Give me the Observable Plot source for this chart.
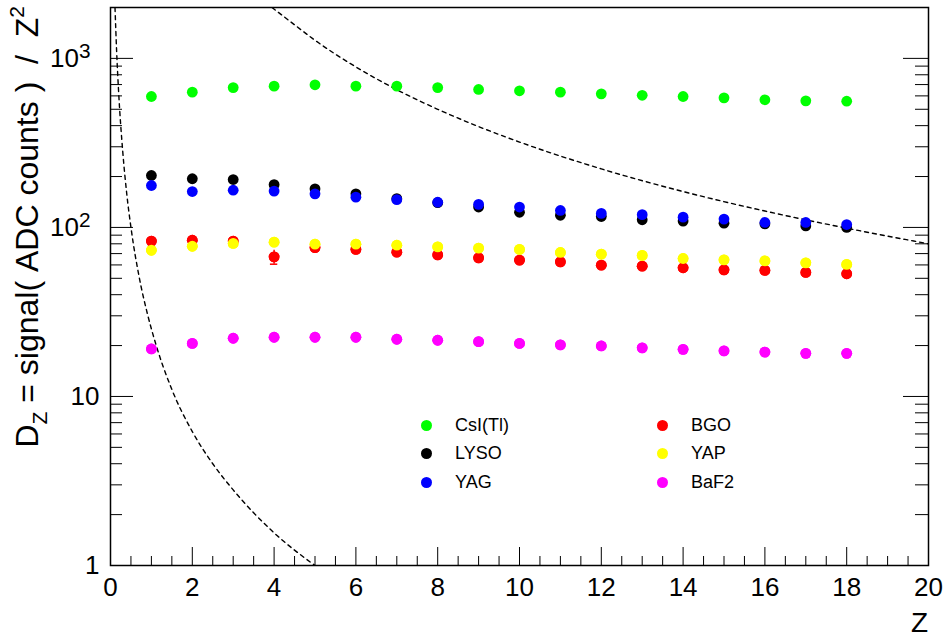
<!DOCTYPE html>
<html>
<head>
<meta charset="utf-8">
<script src="https://cdn.jsdelivr.net/npm/d3@7"></script>
<script src="https://cdn.jsdelivr.net/npm/@observablehq/plot@0.6"></script>
<style>
  body { margin: 0; background: #fff; font-family: "Liberation Sans", Arial, Helvetica, sans-serif; }
  #chart { position: relative; width: 947px; height: 637px; }
  .legend { position: absolute; left: 421px; top: 411px; display: grid;
            grid-template-columns: 236px 140px; grid-template-rows: repeat(3, 28.5px);
            grid-auto-flow: column; font-size: 18px; color: #000; }
  .item { display: flex; align-items: center; }
  .sw { width: 11px; height: 11px; border-radius: 50%; margin-right: 23px; flex: none; }
</style>
</head>
<body>
<div id="chart"></div>
<script>
// Nuclear charge Z of the beam fragments
const Z = [1, 2, 3, 4, 5, 6, 7, 8, 9, 10, 11, 12, 13, 14, 15, 16, 17, 18];

// D_Z = signal / Z^2 for each crystal
const csiTl = [595, 631, 672, 685, 698, 685, 685, 672, 655, 643, 631, 617, 605, 595, 584, 569, 561, 558];
const lyso  = [203, 194, 192, 179, 169, 158, 148, 140, 132, 123, 118, 116, 111, 109, 106, 105, 102, 100];
const yag   = [177, 163, 166, 164, 158, 151, 146, 141, 137, 132, 126, 121, 119, 115, 112, 107, 107, 104];
const bgo   = [83, 84, 83, 67, 76, 74.1, 71.4, 68.8, 66.1, 64.0, 62.6, 59.8, 59.0, 57.7, 56.1, 55.7, 54.2, 53.2];
const bgoErr = [1, 1, 1, 6.4, 1, 1, 1, 1, 1, 1, 1, 1, 1, 1, 1, 1, 1, 1];
const yap   = [73.3, 77.4, 80.4, 81.8, 79.6, 79.6, 78.5, 76.7, 75.4, 74.1, 71.1, 69.5, 68.3, 65.5, 64.3, 63.4, 61.7, 60.4];
const baf2  = [19.1, 20.6, 22.1, 22.4, 22.4, 22.4, 21.8, 21.5, 21.1, 20.6, 20.2, 19.9, 19.4, 19.0, 18.6, 18.3, 18.0, 18.0];

// Crystal names and marker colours (drawing order)
const crystals = ["CsI(Tl)", "LYSO", "YAG", "BGO", "YAP", "BaF2"];
const colors   = ["#00ff00", "#000000", "#0000ff", "#ff0000", "#ffff00", "#ff00ff"];

// Dashed reference curves (low-Z and high-Z limits)
const lowCurveZ  = [0.11, 0.15, 0.2, 0.3, 0.4, 0.5, 0.7, 0.9, 1.1, 1.5, 2, 2.5, 3, 4, 5];
const lowCurveV  = [2000, 1100, 625, 280, 156, 100, 51, 31, 20.7, 11, 6.2, 4, 2.8, 1.56, 1.0];
const highCurveZ = [3.95, 4.5, 5, 6, 7, 8, 9, 10, 12, 14, 16, 18, 20];
const highCurveV = [2000, 1580, 1280, 890, 653, 500, 395, 320, 222, 163, 125, 99, 80];

// Axis ticks
const xMajorTicks = [0, 2, 4, 6, 8, 10, 12, 14, 16, 18, 20];
const yMajorTicks = [1, 10, 100, 1000];
const yTickLabels = ["1", "10", "10^2", "10^3"];

const series = [csiTl, lyso, yag, bgo, yap, baf2];
const points = series.flatMap((vals, i) => Z.map((z, j) => ({ z, v: vals[j], crystal: crystals[i] })));
const bgoRows = Z.map((z, j) => ({ z, v: bgo[j], e: bgoErr[j] }));
const lowCurve = lowCurveZ.map((z, i) => ({ z, v: lowCurveV[i] }));
const highCurve = highCurveZ.map((z, i) => ({ z, v: highCurveV[i] }));

const xMinorTicks = d3.range(0, 20.01, 0.5).filter(d => !xMajorTicks.includes(d));
const yMinorTicks = yMajorTicks.flatMap(p => d3.range(2, 10).map(m => m * p)).filter(d => d <= 2000);

const W = 947, H = 637, mL = 110, mR = 19, mT = 7, mB = 72;
const pw = W - mL - mR, ph = H - mT - mB;
const font = "Liberation Sans, Arial, Helvetica, sans-serif";
const R = 5.4;

const svg = Plot.plot({
  width: W, height: H,
  marginLeft: mL, marginRight: mR, marginTop: mT, marginBottom: mB,
  style: { fontFamily: font, background: "#fff", color: "#000" },
  x: { domain: [0, 20] },
  y: { type: "log", domain: [1, 2000] },
  color: { domain: crystals, range: colors },
  marks: [
    // inward ticks: left and right y, bottom x
    Plot.tickY(yMajorTicks, { y: d => d, insetRight: pw - 23, stroke: "#000" }),
    Plot.tickY(yMinorTicks, { y: d => d, insetRight: pw - 12, stroke: "#000" }),
    Plot.tickY(yMajorTicks, { y: d => d, insetLeft: pw - 25, stroke: "#000" }),
    Plot.tickY(yMinorTicks, { y: d => d, insetLeft: pw - 13, stroke: "#000" }),
    Plot.tickX(xMajorTicks, { x: d => d, insetTop: ph - 18, stroke: "#000" }),
    Plot.tickX(xMinorTicks, { x: d => d, insetTop: ph - 9, stroke: "#000" }),
    Plot.axisY({ ticks: yMajorTicks, tickSize: 0, tickPadding: 11, fontSize: 26, label: null,
                 tickFormat: d => yTickLabels[yMajorTicks.indexOf(d)] }),
    Plot.axisX({ ticks: xMajorTicks, tickSize: 0, tickPadding: 12, fontSize: 26, label: null }),
    Plot.line(lowCurve, { x: "z", y: "v", stroke: "#000", strokeWidth: 1.4, strokeDasharray: "4,4", curve: "monotone-x", clip: true }),
    Plot.line(highCurve, { x: "z", y: "v", stroke: "#000", strokeWidth: 1.4, strokeDasharray: "4,4", curve: "monotone-x", clip: true }),
    Plot.dot(points, { x: "z", y: "v", fill: "crystal", r: R, stroke: "none" }),
    // BGO error bars
    Plot.ruleX(bgoRows, { x: "z", y1: d => d.v - d.e, y2: d => d.v + d.e, stroke: "#ff0000", strokeWidth: 1.5 }),
    Plot.ruleY(bgoRows.filter(d => d.e > 3), { y: d => d.v - d.e, x1: d => d.z - 0.09, x2: d => d.z + 0.09, stroke: "#ff0000", strokeWidth: 1.5 }),
    Plot.dot(bgoRows, { x: "z", y: "v", fill: "#ff0000", r: R }),
    Plot.dot(points.filter(d => d.crystal === "YAP" || d.crystal === "BaF2"), { x: "z", y: "v", fill: "crystal", r: R }),
    Plot.frame({ stroke: "#000", strokeWidth: 1.5 })
  ]
});

const root = d3.select(svg);

// superscript exponents on the decade labels
root.selectAll("g[aria-label='y-axis tick label'] text").each(function () {
  const m = /^10\^(\d)$/.exec(this.textContent);
  if (m) {
    const t = d3.select(this);
    t.text("10");
    t.append("tspan").attr("dy", "-0.43em").attr("font-size", "0.8em").text(m[1]);
    t.attr("dx", -9);
  }
});

// y-axis title: D_Z = signal( ADC counts ) / Z^2
const yt = root.append("text")
  .attr("transform", "translate(38,6) rotate(-90)")
  .attr("text-anchor", "end")
  .attr("font-family", font)
  .attr("font-size", 32)
  .attr("fill", "#000");
yt.append("tspan").text("D");
yt.append("tspan").attr("font-size", 21).attr("dy", 9).text("Z");
yt.append("tspan").attr("dy", -9).text("\u00a0= signal(\u00a0ADC counts\u00a0)\u00a0\u00a0/\u00a0\u00a0Z");
yt.append("tspan").attr("font-size", 21).attr("dy", -14).text("2");

// x-axis title
root.append("text")
  .attr("x", 928).attr("y", 632)
  .attr("text-anchor", "end")
  .attr("font-family", font)
  .attr("font-size", 28)
  .attr("fill", "#000")
  .text("Z");

const chart = document.getElementById("chart");
chart.append(svg);

// legend
const legend = document.createElement("div");
legend.className = "legend";
crystals.forEach((c, i) => {
  const item = document.createElement("div");
  item.className = "item";
  const sw = document.createElement("span");
  sw.className = "sw";
  sw.style.background = colors[i];
  item.append(sw, document.createTextNode(c));
  legend.append(item);
});
chart.append(legend);
</script>
</body>
</html>
